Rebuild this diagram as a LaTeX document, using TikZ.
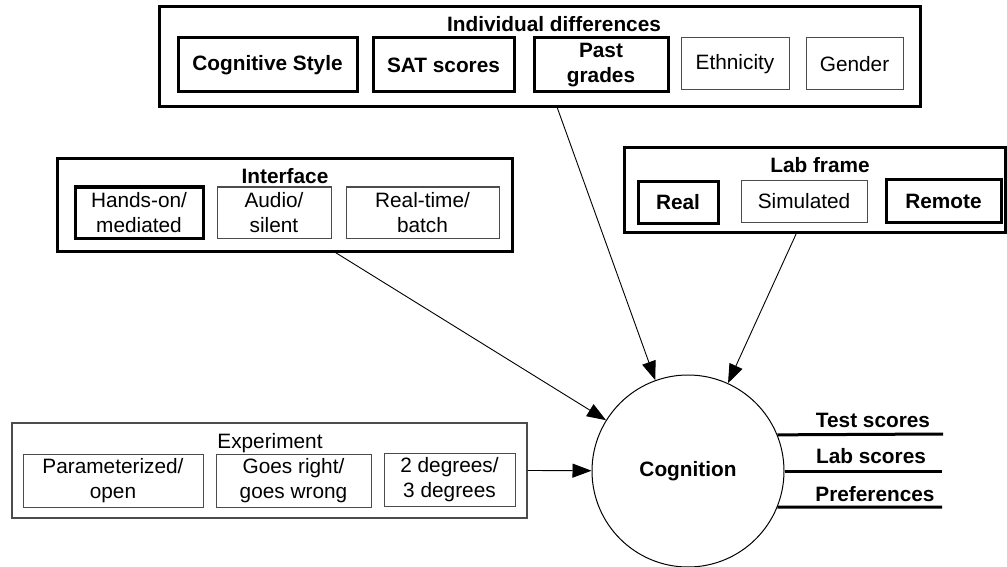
\documentclass[tikz,border=0pt]{standalone}
\usepackage{fontspec}
\setmainfont{Liberation Sans}
\usetikzlibrary{arrows.meta}
\begin{document}
\begin{tikzpicture}[x=1pt,y=-1pt,
  fnt/.style={font=\fontsize{20.8}{24.5}\selectfont, align=center},
  bfnt/.style={font=\fontsize{20.8}{24.5}\selectfont\bfseries, align=center},
  thickbox/.style={draw, line width=3pt, inner sep=0pt, bfnt},
  thinbox/.style={draw=black!70, line width=1pt, inner sep=0pt, fnt},
  outerthick/.style={draw, line width=3pt, inner sep=0pt},
  outerthin/.style={draw=black!70, line width=1.2pt, inner sep=0pt},
  title/.style={anchor=base, inner sep=0pt},
  arr/.style={line width=0.9pt, -{Triangle[length=19pt,width=14pt]}},
  outline/.style={line width=3pt}
]
\useasboundingbox (0,0) rectangle (1007,567);

% Individual differences
\node[outerthick, minimum width=761pt, minimum height=100pt] (indiv) at (539.5,57) {};
\node[title, bfnt] (indivT) at (554,32) {Individual differences};
\node[thickbox, minimum width=179pt, minimum height=54pt] (cs) at (267.5,65) {Cognitive Style};
\node[thickbox, minimum width=141pt, minimum height=54pt] (sat) at (443.5,65) {SAT scores};
\node[thickbox, minimum width=134pt, minimum height=54pt] (past) at (601,65) {Past\\grades};
\node[thinbox, minimum width=108pt, minimum height=52pt] (eth) at (735,64) {Ethnicity};
\node[thinbox, minimum width=97pt, minimum height=52pt] (gen) at (854.5,64) {Gender};

% Interface
\node[outerthick, minimum width=455pt, minimum height=92pt] (iface) at (284.5,205) {};
\node[title, bfnt] (ifaceT) at (285,183) {Interface};
\node[thickbox, fnt, minimum width=128pt, minimum height=51pt] (hands) at (139,212.5) {Hands-on/\\mediated};
\node[thinbox, minimum width=114pt, minimum height=51pt] (audio) at (274,212.5) {Audio/\\silent};
\node[thinbox, minimum width=153pt, minimum height=51pt] (rt) at (422.5,212.5) {Real-time/\\batch};

% Lab frame
\node[outerthick, minimum width=381pt, minimum height=84pt] (lab) at (814.5,190) {};
\node[title, bfnt] (labT) at (820,173) {Lab frame};
\node[thickbox, minimum width=80pt, minimum height=41pt] (real) at (678,202.5) {Real};
\node[thinbox, minimum width=126pt, minimum height=41pt] (sim) at (804,201.5) {Simulated};
\node[thickbox, minimum width=115pt, minimum height=42pt] (remote) at (943.5,201) {Remote};

% Experiment
\node[outerthin, minimum width=515pt, minimum height=95pt] (exp) at (269.5,470.5) {};
\node[title, fnt] (expT) at (270,448) {Experiment};
\node[thinbox, minimum width=180pt, minimum height=53pt] (param) at (113,480.5) {Parameterized/\\open};
\node[thinbox, minimum width=155pt, minimum height=53pt] (goes) at (293.5,480.5) {Goes right/\\goes wrong};
\node[thinbox, minimum width=131pt, minimum height=53pt] (deg) at (449.5,479.5) {2 degrees/\\3 degrees};

% Cognition
\node[circle, draw, line width=1pt, minimum size=192pt, inner sep=0pt, bfnt] (cog) at (688,471) {Cognition};

% Arrows
\coordinate (a1) at (557,107);
\coordinate (a2) at (333,251);
\coordinate (a3) at (797,232);
\draw[arr] (a1) -- (cog);
\draw[arr] (a2) -- (cog);
\draw[arr] (a3) -- (cog);
\draw[arr] (exp.east) -- (cog);

% Outputs
\coordinate (o1) at (943,434);
\coordinate (o2) at (942,471);
\coordinate (o3) at (942,507);
\draw[outline] (cog.22.7) -- (o1);
\draw[outline] (cog.east) -- (o2);
\draw[outline] (cog.-22) -- (o3);
\node[title, bfnt] (t1) at (873,427) {Test scores};
\node[title, bfnt] (t2) at (871,463) {Lab scores};
\node[title, bfnt] (t3) at (875,501) {Preferences};
\end{tikzpicture}
\end{document}
